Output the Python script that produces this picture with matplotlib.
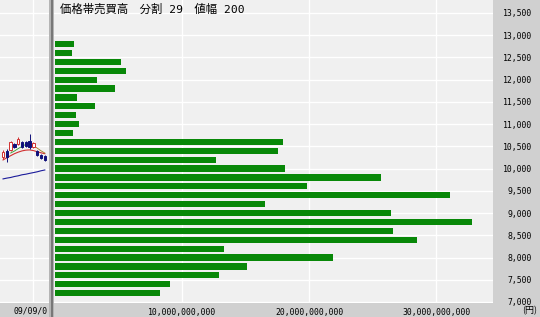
import matplotlib
matplotlib.use("Agg")
import matplotlib.pyplot as plt
from matplotlib.patches import Rectangle

# volume-by-price profile (29 bins, 200 yen each)
prices = [12800, 12600, 12400, 12200, 12000, 11800, 11600, 11400, 11200, 11000,
          10800, 10600, 10400, 10200, 10000, 9800, 9600, 9400, 9200, 9000,
          8800, 8600, 8400, 8200, 8000, 7800, 7600, 7400, 7200]
volumes = [1.50e9, 1.34e9, 5.20e9, 5.60e9, 3.30e9, 4.70e9, 1.73e9, 3.15e9, 1.65e9, 1.90e9,
           1.42e9, 17.95e9, 17.56e9, 12.68e9, 18.10e9, 25.67e9, 19.84e9, 31.10e9, 16.54e9, 26.46e9,
           32.83e9, 26.61e9, 28.50e9, 13.30e9, 21.90e9, 15.10e9, 12.90e9, 9.06e9, 8.27e9]
yticks = [7000, 7500, 8000, 8500, 9000, 9500, 10000, 10500, 11000, 11500, 12000, 12500, 13000, 13500]
xticks = [1e10, 2e10, 3e10]

# small candle panel on the left (shares the price axis)
c_open = [10261, 10396, 10418, 10553, 10553, 10598, 10598, 10621, 10486, 10396, 10306, 10284]
c_close = [10374, 10261, 10598, 10486, 10666, 10486, 10508, 10486, 10576, 10306, 10238, 10194]
c_high = [10418, 10441, 10620, 10575, 10700, 10620, 10620, 10778, 10598, 10418, 10328, 10306]
c_low = [10216, 10148, 10396, 10464, 10530, 10464, 10486, 10441, 10464, 10284, 10216, 10171]
ma_red = [10194, 10245, 10290, 10335, 10370, 10398, 10415, 10420, 10405, 10380, 10355, 10335]
ma_green = [10350, 10395, 10450, 10500, 10545, 10575]
ma_olive = [10575, 10520, 10460, 10400, 10350]
ma_blue = [9768, 9786, 9800, 9822, 9838, 9861, 9874, 9893, 9910, 9928, 9951, 9969]

W, H = 540, 317
BG = "#f0f0f0"
STRIP = "#d0d0d0"
MONO = "DejaVu Sans Mono"
JP = ["Noto Sans CJK JP", "DejaVu Sans"]

fig = plt.figure(figsize=(W / 100, H / 100), dpi=100)
fig.patch.set_facecolor(STRIP)

ylo, yhi = 6977, 13792

# main profile
ax = fig.add_axes([54 / W, (H - 303) / H, (493 - 54) / W, 303 / H])
ax.set_facecolor(BG)
ax.barh(prices, volumes, height=140, color="#088808", zorder=3)
ax.set_xlim(-0.1e9, 34.46e9)
ax.set_ylim(ylo, yhi)
ax.set_yticks(yticks)
ax.set_yticklabels([f"{v:,}" for v in yticks], fontsize=5.9, family=MONO)
ax.yaxis.tick_right()
for lab in ax.get_yticklabels():
    lab.set_ha("right")
ax.tick_params(axis="y", length=0, pad=28)
ax.set_xticks(xticks)
ax.set_xticklabels([f"{int(v):,}" for v in xticks], fontsize=5.9, family=MONO)
ax.tick_params(axis="x", length=0, pad=3.6)
ax.grid(color="white", linewidth=1.0, zorder=1)
ax.set_axisbelow(True)
for s in ax.spines.values():
    s.set_visible(False)

# candle panel
axc = fig.add_axes([0, (H - 303) / H, 49 / W, 303 / H], sharey=ax)
axc.set_facecolor(BG)
axc.set_xlim(-0.8, 12.1)
axc.axvline(7.9, color="white", linewidth=1.0, zorder=1)
for v in yticks:
    axc.axhline(v, color="white", linewidth=1.0, zorder=1)
idx = list(range(len(c_open)))
axc.plot(idx, ma_blue, color="#1a1a9a", linewidth=0.8, zorder=2)
axc.plot(idx, ma_red, color="#d03030", linewidth=0.8, zorder=2)
axc.plot(idx[2:8], ma_green, color="#30a030", linewidth=0.6, zorder=2)
axc.plot(idx[7:], ma_olive, color="#a08020", linewidth=0.6, zorder=2)
for i, o, c, h, l in zip(idx, c_open, c_close, c_high, c_low):
    up = c >= o
    col = "#d03030" if up else "#10107a"
    axc.vlines(i, l, h, color=col, linewidth=0.7, zorder=3)
    axc.bar(i, abs(c - o), bottom=min(o, c), width=0.65,
            color="white" if up else col, edgecolor=col, linewidth=0.7, zorder=4)
axc.set_xticks([])
axc.tick_params(axis="y", left=False, labelleft=False, right=False, labelright=False)
for s in axc.spines.values():
    s.set_visible(False)

# separator between panels
fig.patches.append(Rectangle((49 / W, 0), 5 / W, 1, transform=fig.transFigure,
                             facecolor="#b4b4b4", edgecolor="none", zorder=5))
fig.patches.append(Rectangle((50.7 / W, 0), 2 / W, 1, transform=fig.transFigure,
                             facecolor="#787878", edgecolor="none", zorder=5))

fig.text(48 / W, 1 - 311 / H, "09/09/0", fontsize=5.9, family=MONO, ha="right", va="center")
fig.text(522 / W, 1 - 311 / H, "(円)", fontsize=6.5, family=JP, ha="left", va="center")
fig.text(60 / W, 1 - 9 / H, "価格帯売買高\u3000分割 29\u3000値幅 200", fontsize=8.2,
         family=[MONO, "Noto Sans CJK JP"], ha="left", va="center")

fig.savefig("out.png", dpi=100, facecolor=fig.get_facecolor())
